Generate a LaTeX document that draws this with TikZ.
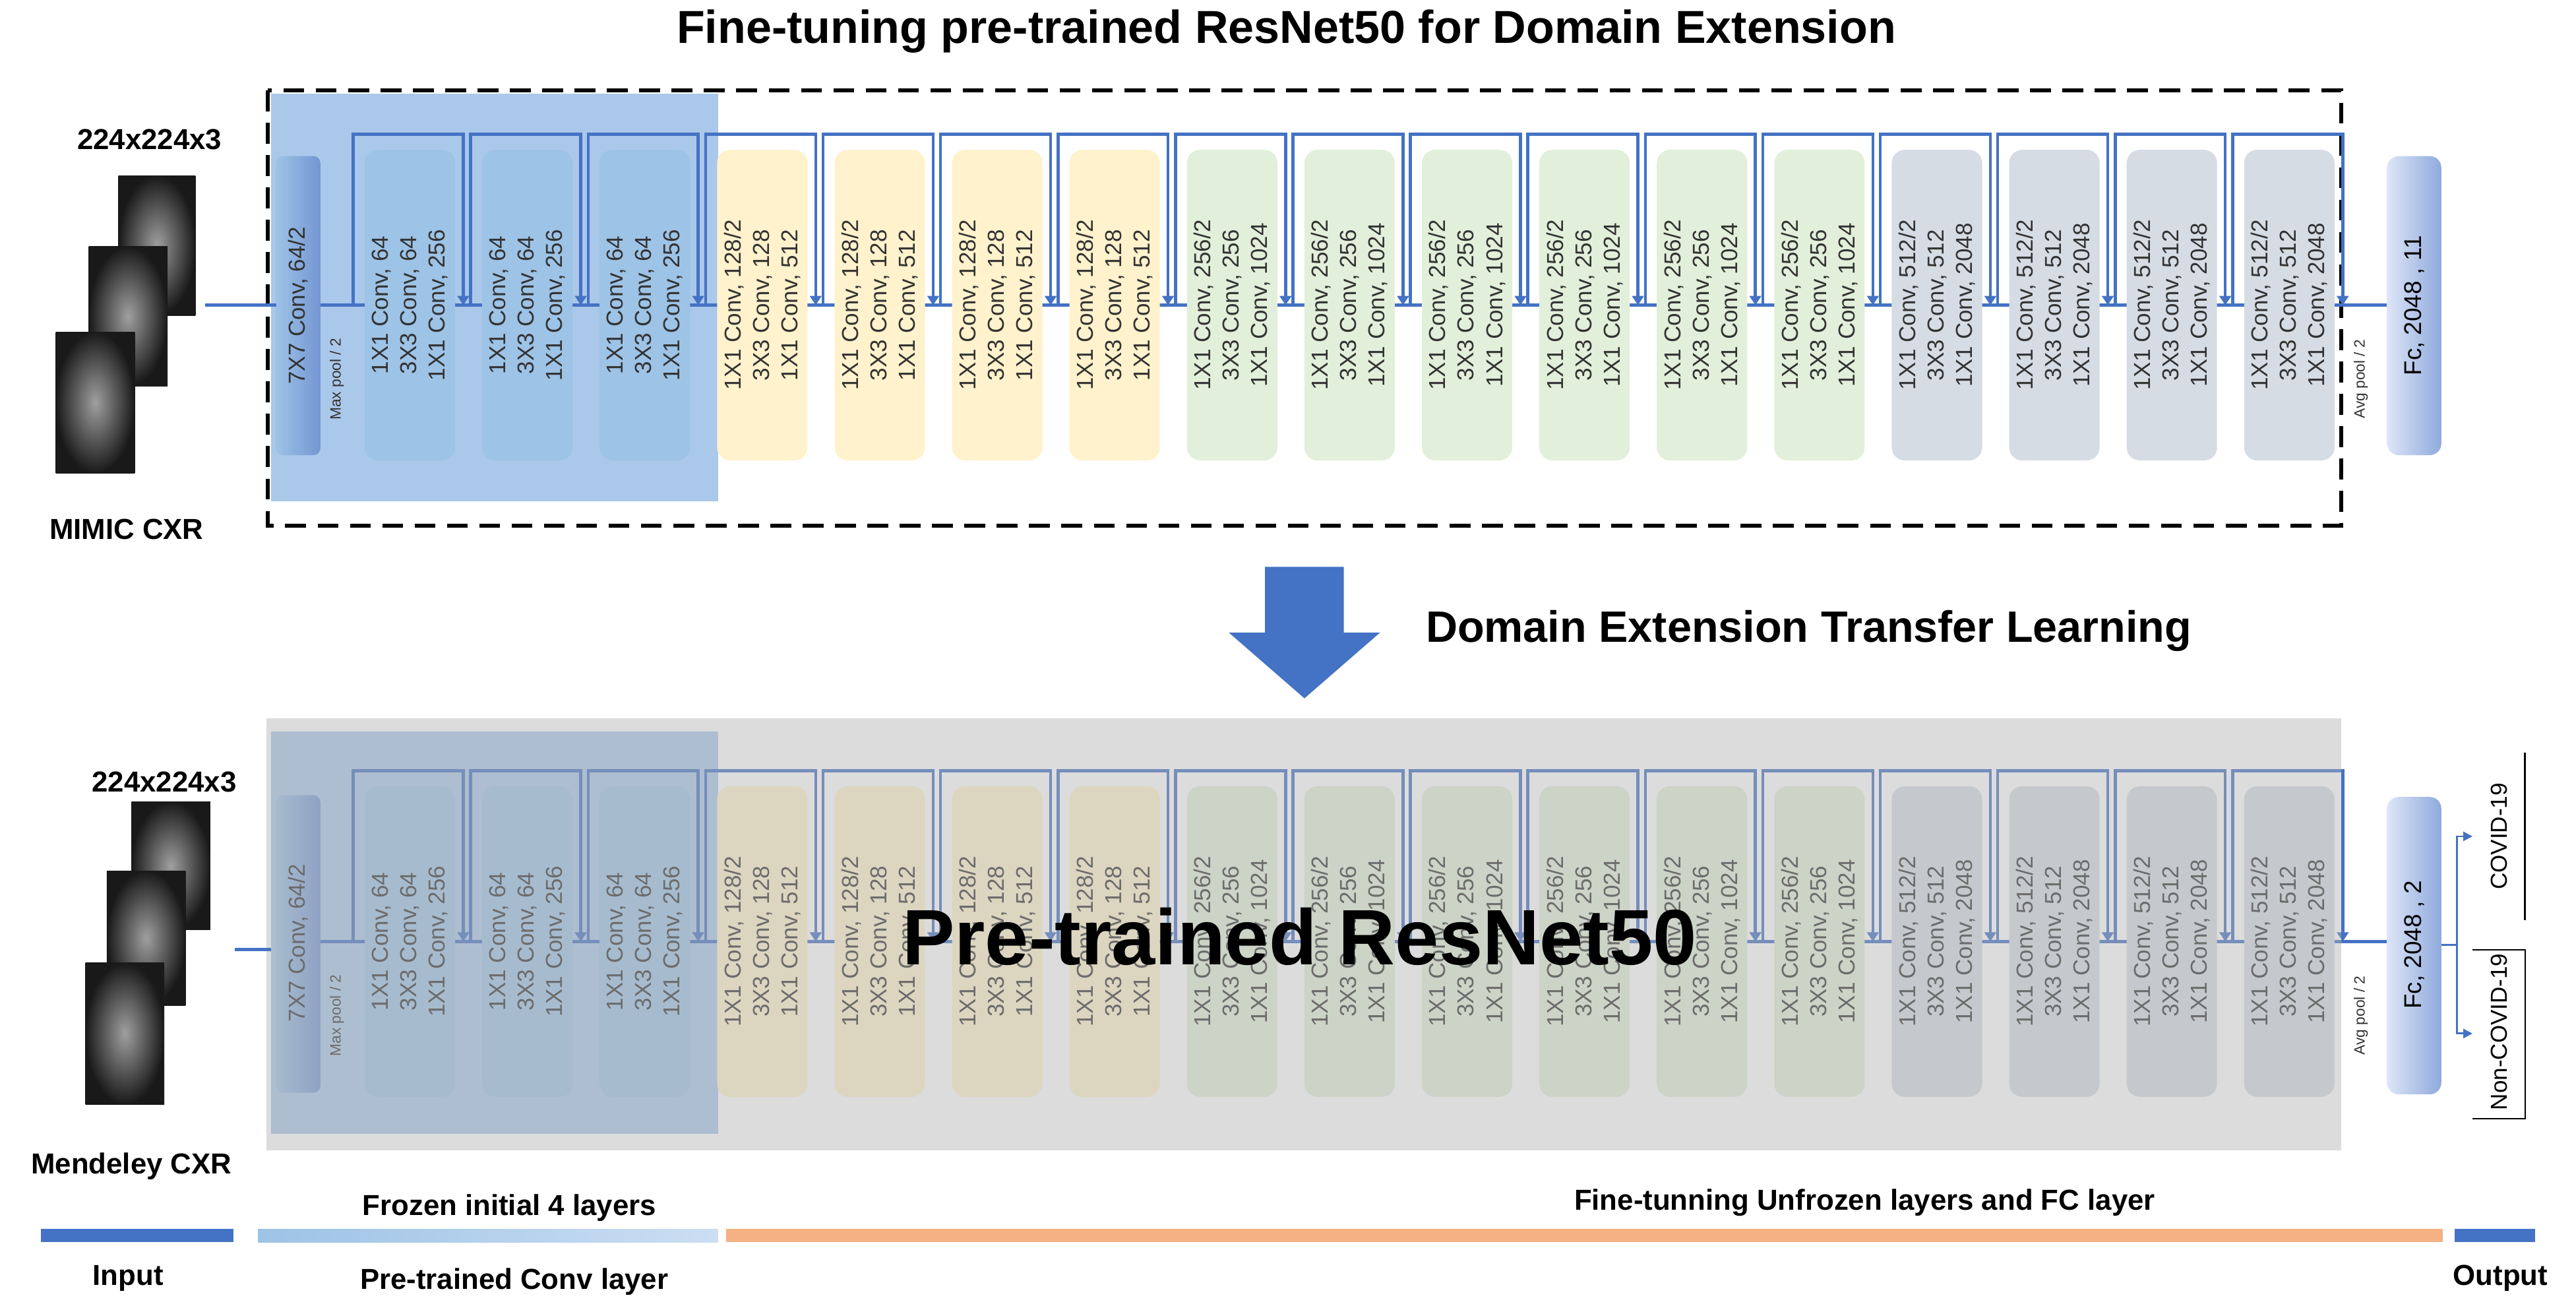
\documentclass[tikz,border=0pt]{standalone}
\usepackage{fontspec}
\setmainfont{Liberation Sans}
\usetikzlibrary{arrows.meta}

\definecolor{lineblue}{HTML}{4472C4}
\definecolor{regblue}{HTML}{AAC8EA}
\definecolor{bblue}{HTML}{9DC3E6}
\definecolor{byellow}{HTML}{FFF2CC}
\definecolor{bgreen}{HTML}{E2EFDA}
\definecolor{bgrey}{HTML}{D6DCE4}
\definecolor{txtgrey}{HTML}{333333}
\definecolor{fcleft}{HTML}{DDE5F7}
\definecolor{fcright}{HTML}{8FAADC}
\definecolor{legorange}{HTML}{F4B183}

\tikzset{
  blk/.style={fill=#1, rounded corners=0.2cm, minimum width=4.725cm, minimum height=1.375cm,
    rotate=90, align=center, inner sep=0pt, text=txtgrey, font=\fontsize{10}{12.3}\selectfont},
  skip/.style={draw=lineblue, line width=1.3pt},
  mainline/.style={draw=lineblue, line width=1.5pt},
  lbl/.style={font=\bfseries\fontsize{12.5}{15}\selectfont},
  small/.style={rotate=90, font=\fontsize{6.5}{8}\selectfont, text=txtgrey},
  xray/.style={inner color=gray!75, outer color=black!90},
}

% one row of the network: #1 name prefix, #2 y of main line
\newcommand{\netrow}[2]{%
  \draw[mainline] (195,#2) -- (1453,#2);
  \foreach \i in {0,...,16} {
    \pgfmathsetmacro\xl{222+71.5*\i}
    \ifnum\i<3 \def\bc{bblue}\def\tx{1X1 Conv, 64\\3X3 Conv, 64\\1X1 Conv, 256}\else
    \ifnum\i<7 \def\bc{byellow}\def\tx{1X1 Conv, 128/2\\3X3 Conv, 128\\1X1 Conv, 512}\else
    \ifnum\i<13 \def\bc{bgreen}\def\tx{1X1 Conv, 256/2\\3X3 Conv, 256\\1X1 Conv, 1024}\else
    \def\bc{bgrey}\def\tx{1X1 Conv, 512/2\\3X3 Conv, 512\\1X1 Conv, 2048}\fi\fi\fi
    \node[blk=\bc] (#1b\i) at (\xl+27.5,#2) {\tx};
    \coordinate (#1u\i) at (\xl-7,#2);
    \coordinate (#1t\i) at (\xl+60,#2-104);
    \coordinate (#1d\i) at (\xl+60,#2);
    \draw[skip,-{Triangle[length=4pt,width=5pt]}] (#1u\i) |- (#1t\i) -- (#1d\i);
  }
  \node[small] (#1mp) at (205,#2+45) {Max pool / 2};
  \node[small] (#1ap) at (1437,#2+45) {Avg pool / 2};
}

\begin{document}
\begin{tikzpicture}[x=0.025cm,y=-0.025cm]
\useasboundingbox (0,0) rectangle (1568,796);

% titles
\node[font=\bfseries\fontsize{20}{24}\selectfont] (title) at (783,19) {Fine-tuning pre-trained ResNet50 for Domain Extension};
\node[font=\bfseries\fontsize{19}{22}\selectfont] (dett) at (1101,384) {Domain Extension Transfer Learning};

% ---------- top network ----------
\fill[regblue] (165,57) rectangle (437,305);
\draw[dashed, line width=1.6pt, dash pattern=on 9pt off 5pt] (163,55) rectangle (1425,320);
\netrow{t}{185.7}
\shade[left color=bblue, right color=lineblue!75, rounded corners=3pt] (168,95) rectangle (195,277);
\node[rotate=90, font=\fontsize{10}{12}\selectfont, text=txtgrey] (tconv) at (181.5,186) {7X7 Conv, 64/2};
\shade[left color=fcleft, right color=fcright, rounded corners=5pt] (1453,95) rectangle (1486,277);
\node[rotate=90, font=\fontsize{10.5}{12}\selectfont] (tfc) at (1469.5,186) {Fc, 2048 , 11};
\draw[mainline] (125,185.7) -- (168,185.7);

% top x-rays
\shade[xray] (72,107) rectangle (119,192);
\shade[xray] (54,150) rectangle (102,235);
\shade[xray] (34,202) rectangle (82,288);
\node[lbl] (tsize) at (91,85) {224x224x3};
\node[lbl] (tname) at (77,322) {MIMIC CXR};

% transfer arrow
\fill[lineblue] (770,345) -- (818,345) -- (818,385) -- (840,385) -- (794,425) -- (748,385) -- (770,385) -- cycle;

% ---------- bottom network ----------
\fill[regblue] (165,445) rectangle (437,690);
\netrow{b}{573}
\shade[left color=bblue, right color=lineblue!75, rounded corners=3pt] (168,484) rectangle (195,665);
\node[rotate=90, font=\fontsize{10}{12}\selectfont, text=txtgrey] (bconv) at (181.5,574) {7X7 Conv, 64/2};
\fill[gray!60, opacity=0.45] (162,437) rectangle (1425,700);
\shade[left color=fcleft, right color=fcright, rounded corners=5pt] (1453,485) rectangle (1486,666);
\node[rotate=90, font=\fontsize{10.5}{12}\selectfont] (bfc) at (1469.5,575) {Fc, 2048 , 2};
\draw[mainline] (143,578) -- (165,578);

\node[font=\bfseries\fontsize{34}{40}\selectfont] (pre) at (791,570) {Pre-trained ResNet50};

% outputs
\coordinate (fo) at (1486,575);
\coordinate (jn) at (1495.5,575);
\coordinate (oc) at (1505,509);
\coordinate (on) at (1505,629);
\draw[lineblue, line width=0.8pt] (fo) -- (jn);
\draw[lineblue, line width=0.8pt, -{Triangle[length=4pt,width=4pt]}] (jn) |- (oc);
\draw[lineblue, line width=0.8pt, -{Triangle[length=4pt,width=4pt]}] (jn) |- (on);
\node[rotate=90, font=\fontsize{10}{12}\selectfont] (cov) at (1521,509) {COVID-19};
\node[rotate=90, font=\fontsize{10}{12}\selectfont] (ncov) at (1521,628) {Non-COVID-19};
\draw[line width=0.8pt] (1537,458) -- (1537,560);
\draw[line width=0.6pt] (1505,578) -- (1537,578) -- (1537,681) -- (1505,681);

% bottom x-rays
\shade[xray] (80,488) rectangle (128,566);
\shade[xray] (65,530) rectangle (113,612);
\shade[xray] (52,586) rectangle (100,672);
\node[lbl] (bsize) at (100,476) {224x224x3};
\node[lbl] (bname) at (80,710) {Mendeley CXR};

% ---------- legend ----------
\fill[lineblue] (25,748) rectangle (142,756);
\shade[left color=bblue, right color=regblue!60] (157,748) rectangle (437,756);
\fill[legorange] (442,748) rectangle (1487,756);
\fill[lineblue] (1494,748) rectangle (1543,756);
\node[lbl] (lin) at (78,778) {Input};
\node[lbl] (lfr) at (310,735) {Frozen initial 4 layers};
\node[lbl] (lpc) at (313,780) {Pre-trained Conv layer};
\node[lbl] (lft) at (1135,732) {Fine-tunning Unfrozen layers and FC layer};
\node[lbl] (lout) at (1522,778) {Output};
\end{tikzpicture}
\end{document}
